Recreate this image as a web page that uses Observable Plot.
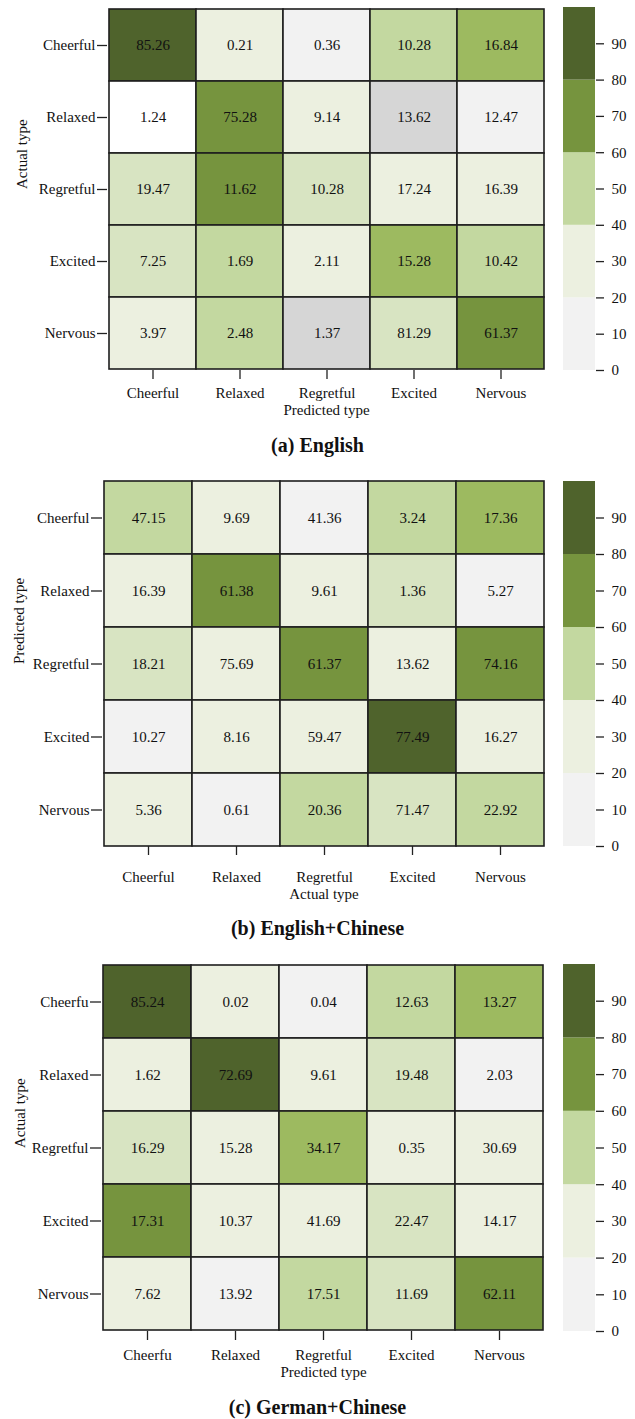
<!DOCTYPE html>
<html>
<head>
<meta charset="utf-8">
<script src="https://cdn.jsdelivr.net/npm/d3@7"></script>
<script src="https://cdn.jsdelivr.net/npm/@observablehq/plot@0.6"></script>
<style>
  html, body { margin: 0; padding: 0; background: #fff; }
  #root { position: relative; width: 635px; height: 1419px; font-family: 'Liberation Serif', 'Times New Roman', serif; }
  #root svg, #root svg text { font-family: 'Liberation Serif', 'Times New Roman', serif !important; }
  .piece { position: absolute; }
  .cap { position: absolute; left: 0; width: 635px; text-align: center; font-weight: bold; font-size: 20px; line-height: 20px; color: #111; }
</style>
</head>
<body>
<div id="root"></div>
<script>
// ---------- data ----------
const typesA = ["Cheerful", "Relaxed", "Regretful", "Excited", "Nervous"];
const typesC = ["Cheerfu", "Relaxed", "Regretful", "Excited", "Nervous"];

const valuesA = [
  [85.26, 0.21, 0.36, 10.28, 16.84],
  [1.24, 75.28, 9.14, 13.62, 12.47],
  [19.47, 11.62, 10.28, 17.24, 16.39],
  [7.25, 1.69, 2.11, 15.28, 10.42],
  [3.97, 2.48, 1.37, 81.29, 61.37]
];
const valuesB = [
  [47.15, 9.69, 41.36, 3.24, 17.36],
  [16.39, 61.38, 9.61, 1.36, 5.27],
  [18.21, 75.69, 61.37, 13.62, 74.16],
  [10.27, 8.16, 59.47, 77.49, 16.27],
  [5.36, 0.61, 20.36, 71.47, 22.92]
];
const valuesC = [
  [85.24, 0.02, 0.04, 12.63, 13.27],
  [1.62, 72.69, 9.61, 19.48, 2.03],
  [16.29, 15.28, 34.17, 0.35, 30.69],
  [17.31, 10.37, 41.69, 22.47, 14.17],
  [7.62, 13.92, 17.51, 11.69, 62.11]
];

// shade level of each cell as drawn in the figure
// W white, G grey, N near-white, V very light, L lighter green, C light green, M mid green, D mid-dark, K dark
const shadesA = [
  ["K", "V", "N", "C", "M"],
  ["W", "D", "V", "G", "N"],
  ["L", "D", "L", "V", "V"],
  ["L", "C", "V", "M", "C"],
  ["V", "C", "G", "L", "D"]
];
const shadesB = [
  ["C", "V", "N", "C", "M"],
  ["V", "D", "V", "L", "N"],
  ["L", "V", "D", "V", "D"],
  ["N", "V", "V", "K", "V"],
  ["V", "N", "C", "L", "C"]
];
const shadesC = [
  ["K", "V", "N", "C", "M"],
  ["V", "K", "V", "L", "N"],
  ["L", "V", "M", "V", "V"],
  ["D", "V", "V", "L", "V"],
  ["V", "N", "C", "L", "D"]
];

const legendBandsLo = [0, 20, 40, 60, 80];
const legendBandsHi = [20, 40, 60, 80, 100];
const legendTicks = [0, 10, 20, 30, 40, 50, 60, 70, 80, 90];

// ---------- style ----------
const shadeCodes = ["W", "G", "N", "V", "L", "C", "M", "D", "K"];
const shadeColors = ["#ffffff", "#d6d6d6", "#f2f2f2", "#ecf0e0", "#d8e4c2", "#c3d8a0", "#9dba60", "#76943e", "#4f632c"];
const legendColors = ["#f2f2f2", "#ecf0e0", "#c3d8a0", "#76943e", "#4f632c"];
const FONT = "'Liberation Serif', 'Times New Roman', serif";

const root = document.getElementById("root");

function place(el, left, top) {
  el.classList.add("piece");
  el.style.left = left + "px";
  el.style.top = top + "px";
  root.appendChild(el);
}

function panel(cfg) {
  const { rowsY, colsX, values, shades, xTitle, yTitle, caption,
          left, frameTop, frameH, xTickPad, xTitleDy, yTitleDx, yTickSize, capY } = cfg;
  const data = rowsY.flatMap((r, i) => colsX.map((c, j) => ({ r, c, v: values[i][j], s: shades[i][j] })));
  const mBottom = 70;
  const H = 7 + frameH + mBottom;
  const chart = Plot.plot({
    width: 635,
    height: H,
    marginTop: 7,
    marginBottom: mBottom,
    marginLeft: left,
    marginRight: 635 - 545,
    style: { fontFamily: FONT, fontSize: "15px", color: "#111", background: "transparent", overflow: "visible" },
    x: { domain: colsX, padding: 0, label: null },
    y: { domain: rowsY, padding: 0, label: null },
    color: { type: "ordinal", domain: shadeCodes, range: shadeColors },
    marks: [
      Plot.cell(data, { x: "c", y: "r", fill: "s", stroke: "#1e1e1e", strokeWidth: 1.6 }),
      Plot.text(data, { x: "c", y: "r", text: d => d.v.toFixed(2), fontSize: 15, fill: "#111" }),
      Plot.axisX({ tickSize: 9, tickPadding: xTickPad, label: null, stroke: "#222", strokeWidth: 1.3 }),
      Plot.axisY({ tickSize: yTickSize, tickPadding: 2, label: null, stroke: "#222", strokeWidth: 1.3 }),
      Plot.text([xTitle], { text: d => d, frameAnchor: "bottom", dy: xTitleDy, fontSize: 15, fill: "#111" }),
      Plot.text([yTitle], { text: d => d, frameAnchor: "left", dx: yTitleDx, rotate: -90, fontSize: 15, fill: "#111" })
    ]
  });
  place(chart, 0, frameTop - 7);

  const bands = legendBandsLo.map((lo, i) => ({ lo, hi: legendBandsHi[i], c: legendColors[i] }));
  const legend = Plot.plot({
    width: 80,
    height: H,
    marginTop: 7,
    marginBottom: mBottom,
    marginLeft: 8,
    marginRight: 40,
    style: { fontFamily: FONT, fontSize: "15px", color: "#111", background: "transparent", overflow: "visible" },
    y: { domain: [0, 100], label: null },
    marks: [
      Plot.rect(bands, { y1: "lo", y2: "hi", fill: "c" }),
      Plot.axisY({ anchor: "right", ticks: legendTicks, tickSize: 8, tickPadding: 8, label: null, stroke: "#222", strokeWidth: 1.3 })
    ]
  });
  place(legend, 555, frameTop - 7);

  const cap = document.createElement("div");
  cap.className = "cap";
  cap.textContent = caption;
  cap.style.top = (capY - 10) + "px";
  root.appendChild(cap);
}

panel({ rowsY: typesA, colsX: typesA, values: valuesA, shades: shadesA,
  xTitle: "Predicted type", yTitle: "Actual type", caption: "(a) English",
  left: 107, frameTop: 7, frameH: 363, xTickPad: 8, xTitleDy: 44, yTitleDx: -85, yTickSize: 10, capY: 445 });

panel({ rowsY: typesA, colsX: typesA, values: valuesB, shades: shadesB,
  xTitle: "Actual type", yTitle: "Predicted type", caption: "(b) English+Chinese",
  left: 102, frameTop: 481, frameH: 365, xTickPad: 16, xTitleDy: 52, yTitleDx: -83, yTickSize: 11, capY: 928 });

panel({ rowsY: typesC, colsX: typesC, values: valuesC, shades: shadesC,
  xTitle: "Predicted type", yTitle: "Actual type", caption: "(c) German+Chinese",
  left: 101, frameTop: 964, frameH: 367, xTickPad: 9, xTitleDy: 45, yTitleDx: -81, yTickSize: 11, capY: 1407 });
</script>
</body>
</html>
